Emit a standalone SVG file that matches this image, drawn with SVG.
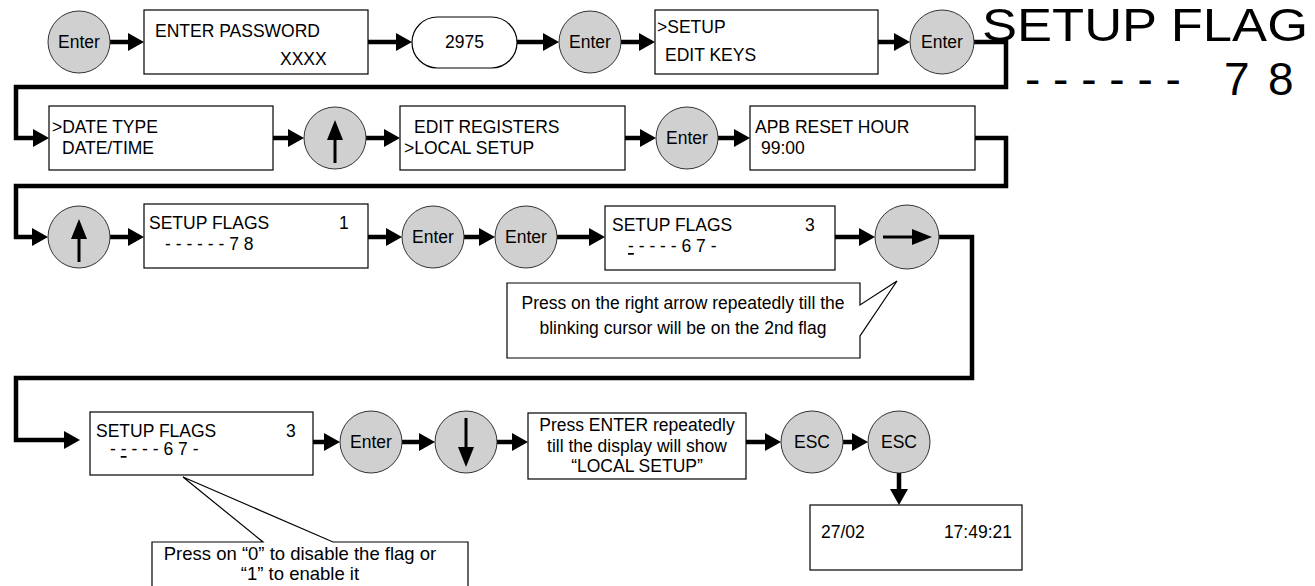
<svg xmlns="http://www.w3.org/2000/svg" width="1315" height="586" viewBox="0 0 1315 586">
<style>
.box{fill:#fff;stroke:#000;stroke-width:1.2}
.btn{fill:#d0d0d0;stroke:#333;stroke-width:1}
.conn{fill:none;stroke:#000;stroke-width:4.5;marker-end:url(#ah)}
.inner{fill:none;stroke:#000;stroke-width:3;marker-end:url(#ahs)}
.t{font-family:'Liberation Sans',Arial,sans-serif;font-size:17.5px;fill:#000}
.c{text-anchor:middle}
.n2{font-size:18.5px}
.big{font-family:'Liberation Sans',Arial,sans-serif;font-size:46px;fill:#000}
.u{text-decoration:underline}
</style>
<defs>
<marker id="ah" markerUnits="userSpaceOnUse" viewBox="0 0 16 18" markerWidth="16" markerHeight="18" refX="6" refY="9" orient="auto"><path d="M0,0 L16,9 L0,18 z" fill="#000"/></marker>
<marker id="ahs" markerUnits="userSpaceOnUse" viewBox="0 0 20 16" markerWidth="20" markerHeight="16" refX="8" refY="8" orient="auto"><path d="M0,0 L20,8 L0,16 z" fill="#000"/></marker>
</defs>
<rect width="1315" height="586" fill="#fff"/>

<g id="connectors">
<path class="conn" d="M110,42 H134"/>
<path class="conn" d="M368,42 H402"/>
<path class="conn" d="M517,42 H549"/>
<path class="conn" d="M621,42 H645"/>
<path class="conn" d="M878,42 H900"/>
<path class="conn" d="M974,42 H1006 V87 H16 V138 H39"/>
<path class="conn" d="M273,138 H294"/>
<path class="conn" d="M366,138 H390"/>
<path class="conn" d="M625,138 H646"/>
<path class="conn" d="M718,138 H740"/>
<path class="conn" d="M975,138 H1006 V186 H16 V237 H38"/>
<path class="conn" d="M110,237 H134"/>
<path class="conn" d="M368,237 H392"/>
<path class="conn" d="M464,237 H485"/>
<path class="conn" d="M557,237 H595"/>
<path class="conn" d="M835,237 H865"/>
<path class="conn" d="M939,237 H972 V378 H16 V440 H70"/>
<path class="conn" d="M313,442 H330"/>
<path class="conn" d="M402,442 H425"/>
<path class="conn" d="M497,442 H518"/>
<path class="conn" d="M746,442 H771"/>
<path class="conn" d="M843,442 H858"/>
<path class="conn" d="M899,473 V495"/>
</g>

<g id="bigLabel">
<text class="big" x="982" y="41" textLength="326" lengthAdjust="spacingAndGlyphs">SETUP FLAG</text>
<text class="big" x="1025" y="95">- - - - - - <tspan x="1224">7</tspan><tspan x="1268">8</tspan></text>
</g>

<g id="enter1"><circle class="btn" cx="79" cy="42" r="31"/><text class="t c" x="79" y="48">Enter</text></g>
<g id="password"><rect class="box" x="144" y="10" width="224" height="64"/><text class="t" x="155" y="37">ENTER PASSWORD</text><text class="t" x="280" y="65">XXXX</text></g>
<g id="code"><rect class="box" x="412" y="17" width="105" height="51" rx="25.5"/><text class="t c" x="464.5" y="48">2975</text></g>
<g id="enter2"><circle class="btn" cx="590" cy="42" r="31"/><text class="t c" x="590" y="48">Enter</text></g>
<g id="setupMenu"><rect class="box" x="655" y="10" width="223" height="64"/><text class="t" x="657" y="33">&gt;SETUP</text><text class="t" x="665" y="61">EDIT KEYS</text></g>
<g id="enter3"><circle class="btn" cx="942" cy="42" r="32"/><text class="t c" x="942" y="48">Enter</text></g>

<g id="dateType"><rect class="box" x="49" y="106" width="224" height="64"/><text class="t" x="52" y="133">&gt;DATE TYPE</text><text class="t" x="62" y="154">DATE/TIME</text></g>
<g id="up1"><circle class="btn" cx="335" cy="138" r="31"/><path class="inner" d="M335,163 V132"/></g>
<g id="localSetup"><rect class="box" x="400" y="106" width="225" height="64"/><text class="t" x="414" y="133">EDIT REGISTERS</text><text class="t" x="404" y="154">&gt;LOCAL SETUP</text></g>
<g id="enter4"><circle class="btn" cx="687" cy="138" r="31"/><text class="t c" x="687" y="144">Enter</text></g>
<g id="apbReset"><rect class="box" x="750" y="106" width="225" height="64"/><text class="t" x="755" y="133">APB RESET HOUR</text><text class="t" x="761" y="154">99:00</text></g>

<g id="up2"><circle class="btn" cx="79" cy="237" r="31"/><path class="inner" d="M79,262 V231"/></g>
<g id="flags1"><rect class="box" x="144" y="204" width="224" height="64"/><text class="t" x="149" y="229">SETUP FLAGS<tspan x="339">1</tspan></text><text class="t" x="165" y="250">- - - - - - 7 8</text></g>
<g id="enter5"><circle class="btn" cx="433" cy="237" r="31"/><text class="t c" x="433" y="243">Enter</text></g>
<g id="enter6"><circle class="btn" cx="526" cy="237" r="31"/><text class="t c" x="526" y="243">Enter</text></g>
<g id="flags3a"><rect class="box" x="605" y="206" width="230" height="64"/><text class="t" x="612" y="231">SETUP FLAGS<tspan x="805">3</tspan></text><text class="t" x="628" y="252"><tspan class="u">-</tspan> - - - - 6 7 -</text></g>
<g id="right1"><circle class="btn" cx="907" cy="237" r="32"/><path class="inner" d="M883,237 H920"/></g>
<g id="note1"><path class="box" d="M507,283 H860 V305 L897,281 L860,336 V358 H507 Z"/><text class="t c" x="683" y="309">Press on the right arrow repeatedly till the</text><text class="t c" x="683" y="334">blinking cursor will be on the 2nd flag</text></g>

<g id="flags3b"><rect class="box" x="90" y="412" width="223" height="63"/><text class="t" x="96" y="437">SETUP FLAGS<tspan x="286">3</tspan></text><text class="t" x="110" y="455">- <tspan class="u">-</tspan> - - - 6 7 -</text></g>
<g id="enter7"><circle class="btn" cx="371" cy="442" r="31"/><text class="t c" x="371" y="448">Enter</text></g>
<g id="down1"><circle class="btn" cx="466" cy="442" r="31"/><path class="inner" d="M466,418 V455"/></g>
<g id="repeat"><rect class="box" x="528" y="413" width="218" height="66"/><text class="t c" x="637" y="431">Press ENTER repeatedly</text><text class="t c" x="637" y="452">till the display will show</text><text class="t c" x="637" y="472">“LOCAL SETUP”</text></g>
<g id="esc1"><circle class="btn" cx="812" cy="442" r="31"/><text class="t c" x="812" y="448">ESC</text></g>
<g id="esc2"><circle class="btn" cx="899" cy="442" r="31"/><text class="t c" x="899" y="448">ESC</text></g>
<g id="dateTime"><rect class="box" x="810" y="505" width="212" height="65"/><text class="t" x="821" y="538">27/02</text><text class="t" x="1012" y="538" text-anchor="end">17:49:21</text></g>
<g id="note2"><path class="box" d="M152,542 H263 L183,477 L333,542 H468 V592 H152 Z"/><text class="t c n2" x="300" y="560">Press on “0” to disable the flag or</text><text class="t c n2" x="300" y="580">“1” to enable it</text></g>
</svg>
